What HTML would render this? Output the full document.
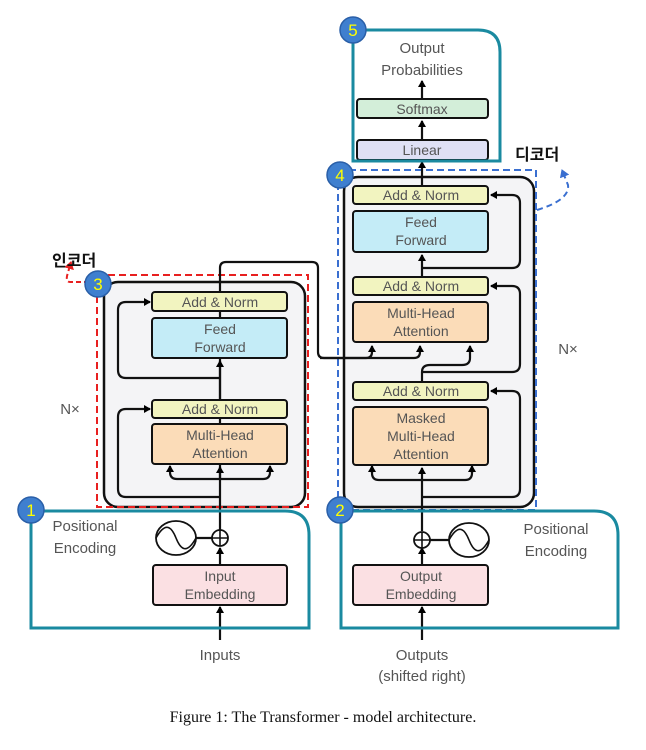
<!DOCTYPE html>
<html><head><meta charset="utf-8"><style>
html,body{margin:0;padding:0;background:#fff;}
svg{display:block;}
text{font-family:"Liberation Sans",sans-serif;}
.g{fill:#555;font-size:15px;text-anchor:middle;}
.b{fill:#555;font-size:14px;text-anchor:middle;}
.k{font-family:"Liberation Sans","Noto Sans CJK KR",sans-serif;font-weight:bold;font-size:16px;fill:#111;}
.num{fill:#ff0;font-size:17px;text-anchor:middle;}
</style></head><body>
<svg width="646" height="750" viewBox="0 0 646 750" xmlns="http://www.w3.org/2000/svg">
<defs>
<marker id="a" markerWidth="8" markerHeight="8" refX="6" refY="4" orient="auto" markerUnits="userSpaceOnUse"><path d="M0,0 L7,4 L0,8 z" fill="#000"/></marker>
<marker id="bl" markerWidth="10" markerHeight="10" refX="7" refY="5" orient="auto" markerUnits="userSpaceOnUse"><path d="M0,0 L8,5 L0,10 z" fill="#3a6fd0"/></marker>
<marker id="rd" markerWidth="10" markerHeight="10" refX="7" refY="5" orient="auto" markerUnits="userSpaceOnUse"><path d="M0,0 L8,5 L0,10 z" fill="#e82020"/></marker>
</defs>
<!-- encoder block -->
<rect x="104" y="282" width="201" height="225" rx="14" fill="#f4f4f6" stroke="#111" stroke-width="2.5"/>
<rect x="97" y="275" width="211" height="232" fill="none" stroke="#e82020" stroke-width="2" stroke-dasharray="7,4"/>
<path d="M97,282 L70,282 Q66,282 67,276 L71,262" fill="none" stroke="#e82020" stroke-width="2" stroke-dasharray="5,3" marker-end="url(#rd)"/>
<!-- decoder block -->
<rect x="344" y="177" width="190" height="330" rx="14" fill="#f4f4f6" stroke="#111" stroke-width="2.5"/>
<rect x="338" y="170" width="198" height="340" fill="none" stroke="#3a6fd0" stroke-width="2" stroke-dasharray="7,4"/>
<path d="M537,210 Q570,200 568,185 L562,170" fill="none" stroke="#3a6fd0" stroke-width="2" stroke-dasharray="6,4" marker-end="url(#bl)"/>

<g stroke="#111" stroke-width="2.2" fill="none">
<!-- encoder lines -->
<path d="M220,640 L220,607" marker-end="url(#a)"/>
<path d="M220,565 L220,548" marker-end="url(#a)"/>
<path d="M220,530 L220,268 Q220,262 226,262 L312,262 Q318,262 318,268 L318,352 Q318,358 324,358 L366,358 Q372,358 372,352 L372,346" marker-end="url(#a)"/>
<path d="M320,358 L414,358 Q420,358 420,352 L420,346"  marker-end="url(#a)"/>
<path d="M220,497 L126,497 Q118,497 118,489 L118,417 Q118,409 126,409 L150,409" marker-end="url(#a)"/>
<path d="M220,378 L126,378 Q118,378 118,370 L118,310 Q118,302 126,302 L150,302" marker-end="url(#a)"/>
<path d="M220,400 L220,361" marker-end="url(#a)"/>
<path d="M220,479 L220,467" marker-end="url(#a)"/>
<path d="M170,467 L170,472 Q170,479 177,479 L263,479 Q270,479 270,472 L270,467"/>
<path d="M170,472 L170,466" marker-end="url(#a)"/>
<path d="M270,472 L270,466" marker-end="url(#a)"/>
<!-- decoder lines -->
<path d="M422,640 L422,607" marker-end="url(#a)"/>
<path d="M422,565 L422,548" marker-end="url(#a)"/>
<path d="M422,531 L422,468" marker-end="url(#a)"/>
<path d="M372,467 L372,473 Q372,480 379,480 L465,480 Q472,480 472,473 L472,467"/>
<path d="M372,473 L372,466" marker-end="url(#a)"/>
<path d="M472,473 L472,466" marker-end="url(#a)"/>
<path d="M422,497 L512,497 Q520,497 520,489 L520,399 Q520,391 512,391 L491,391" marker-end="url(#a)"/>
<path d="M422,382 L422,372 Q422,365 430,365 L462,365 Q470,365 470,358 L470,346" marker-end="url(#a)"/>
<path d="M422,372 L512,372 Q520,372 520,364 L520,294 Q520,286 512,286 L491,286" marker-end="url(#a)"/>
<path d="M422,277 L422,255" marker-end="url(#a)"/>
<path d="M422,268 L512,268 Q520,268 520,260 L520,203 Q520,195 512,195 L491,195" marker-end="url(#a)"/>
<path d="M422,186 L422,162" marker-end="url(#a)"/>
<path d="M422,140 L422,121" marker-end="url(#a)"/>
<path d="M422,99 L422,81" marker-end="url(#a)"/>
<!-- positional encodings -->
<path d="M195,538 L212,538"/>
<path d="M430,540 L450,540"/>
</g>
<!-- plus circles -->
<g stroke="#111" stroke-width="1.8" fill="#fff">
<circle cx="220" cy="538" r="8"/><circle cx="422" cy="540" r="8"/>
<ellipse cx="176" cy="538" rx="20" ry="17"/><ellipse cx="469" cy="540" rx="20" ry="17"/>
</g>
<g stroke="#111" stroke-width="1.6" fill="none">
<path d="M212,538 H228 M220,530 V546 M414,540 H430 M422,532 V548"/>
<path d="M156,538 C166,520 172,528 176,538 C180,548 186,556 196,538"/>
<path d="M449,540 C459,522 465,530 469,540 C473,550 479,558 489,540"/>
</g>
<!-- encoder boxes -->
<g stroke="#111" stroke-width="2">
<rect x="152" y="292" width="135" height="19" rx="3" fill="#f2f4c0"/>
<rect x="152" y="318" width="135" height="40" rx="3" fill="#c4ecf7"/>
<rect x="152" y="400" width="135" height="18" rx="3" fill="#f2f4c0"/>
<rect x="152" y="424" width="135" height="40" rx="3" fill="#fbdcb8"/>
<rect x="153" y="565" width="134" height="40" rx="3" fill="#fbe0e3"/>
<rect x="353" y="186" width="135" height="18" rx="3" fill="#f2f4c0"/>
<rect x="353" y="211" width="135" height="41" rx="3" fill="#c4ecf7"/>
<rect x="353" y="277" width="135" height="18" rx="3" fill="#f2f4c0"/>
<rect x="353" y="302" width="135" height="40" rx="3" fill="#fbdcb8"/>
<rect x="353" y="382" width="135" height="18" rx="3" fill="#f2f4c0"/>
<rect x="353" y="407" width="135" height="58" rx="3" fill="#fbdcb8"/>
<rect x="353" y="565" width="135" height="40" rx="3" fill="#fbe0e3"/>
<rect x="357" y="99" width="131" height="19" rx="3" fill="#d3eed9"/>
<rect x="357" y="140" width="131" height="20" rx="3" fill="#dfe0f5"/>
</g>
<!-- texts -->
<text class="b" x="220" y="307">Add &amp; Norm</text>
<text class="b" x="220" y="334">Feed</text><text class="b" x="220" y="352">Forward</text>
<text class="b" x="220" y="414">Add &amp; Norm</text>
<text class="b" x="220" y="440">Multi-Head</text><text class="b" x="220" y="458">Attention</text>
<text class="b" x="220" y="581">Input</text><text class="b" x="220" y="599">Embedding</text>
<text class="b" x="421" y="200">Add &amp; Norm</text>
<text class="b" x="421" y="227">Feed</text><text class="b" x="421" y="245">Forward</text>
<text class="b" x="421" y="291">Add &amp; Norm</text>
<text class="b" x="421" y="318">Multi-Head</text><text class="b" x="421" y="336">Attention</text>
<text class="b" x="421" y="396">Add &amp; Norm</text>
<text class="b" x="421" y="423">Masked</text><text class="b" x="421" y="441">Multi-Head</text><text class="b" x="421" y="459">Attention</text>
<text class="b" x="421" y="581">Output</text><text class="b" x="421" y="599">Embedding</text>
<text class="b" x="422" y="114">Softmax</text>
<text class="b" x="422" y="155">Linear</text>
<text class="g" x="422" y="53">Output</text><text class="g" x="422" y="75">Probabilities</text>
<text class="g" x="220" y="660">Inputs</text>
<text class="g" x="422" y="660">Outputs</text><text class="g" x="422" y="681">(shifted right)</text>
<text class="g" x="85" y="531">Positional</text><text class="g" x="85" y="553">Encoding</text>
<text class="g" x="556" y="534">Positional</text><text class="g" x="556" y="556">Encoding</text>
<text class="g" x="70" y="414">N×</text>
<text class="g" x="568" y="354">N×</text>
<text x="323" y="722" text-anchor="middle" style="font-family:'Liberation Serif',serif;font-size:16px;fill:#111">Figure 1: The Transformer - model architecture.</text>
<text class="k" x="52" y="266">인코더</text>
<text class="k" x="515" y="160">디코더</text>
<!-- teal boxes -->
<g fill="none" stroke="#1a8aa0" stroke-width="3">
<path d="M31,511 L285,511 Q309,511 309,535 L309,628 L31,628 Z"/>
<path d="M341,511 L594,511 Q618,511 618,535 L618,628 L341,628 Z"/>
<path d="M353,30 L478,30 Q500,30 500,52 L500,161 L353,161 Z"/>
</g>
<!-- badges -->
<g fill="#3f7fcf" stroke="#2a5fa8" stroke-width="1.5">
<circle cx="31" cy="510" r="13"/><circle cx="340" cy="510" r="13"/>
<circle cx="98" cy="284" r="13"/><circle cx="340" cy="175" r="13"/><circle cx="353" cy="30" r="13"/>
</g>
<text class="num" x="31" y="516">1</text>
<text class="num" x="340" y="516">2</text>
<text class="num" x="98" y="290">3</text>
<text class="num" x="340" y="181">4</text>
<text class="num" x="353" y="36">5</text>
</svg>
</body></html>
